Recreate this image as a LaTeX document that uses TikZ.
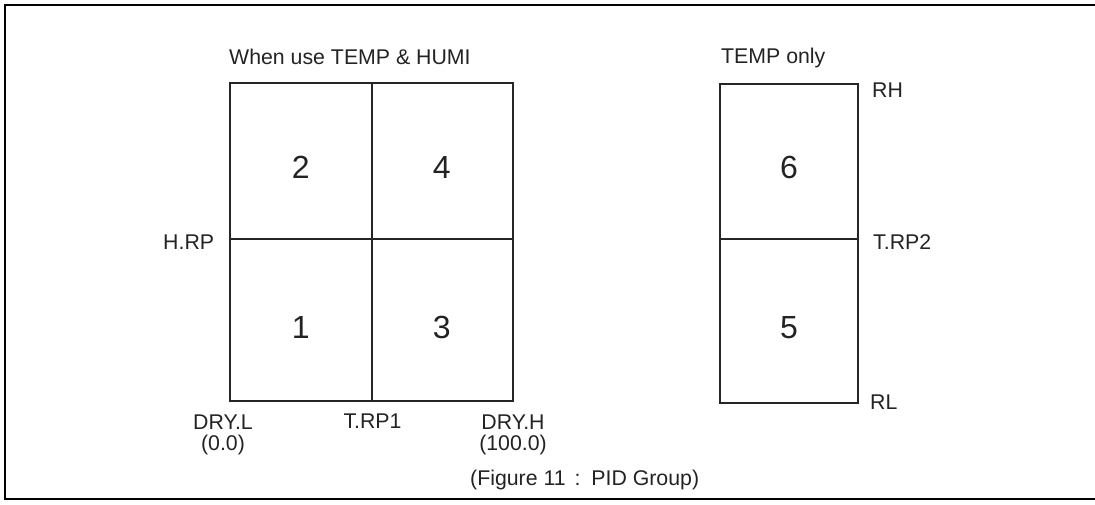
\documentclass[tikz,border=0pt]{standalone}
\usepackage{fontspec}
\setmainfont{Liberation Sans}
\begin{document}
\begin{tikzpicture}[x=1pt,y=1pt,
  lbl/.style={font=\fontsize{21.3}{21}\selectfont, text=txtc, inner sep=0pt},
  dig/.style={font=\fontsize{32}{34}\selectfont, text=txtc, inner sep=0pt},
  boxline/.style={line width=1.6pt, draw=black!85},
  frameline/.style={line width=2.6pt, draw=black}]
\definecolor{txtc}{RGB}{35,35,35}
\useasboundingbox (0,0) rectangle (1095,-504);
% outer frame (open on the right)
\coordinate (F1) at (1095,-5);
\coordinate (F2) at (5,-5);
\coordinate (F3) at (5,-499);
\coordinate (F4) at (1095,-499);
\draw[frameline] (F1) -- (F2) -- (F3) -- (F4);
% left grid
\coordinate (LTL) at (230,-83);
\coordinate (LBR) at (513,-401);
\coordinate (LTM) at (372,-83);
\coordinate (LBM) at (372,-401);
\coordinate (LML) at (230,-239);
\coordinate (LMR) at (513,-239);
\draw[boxline] (LTL) rectangle (LBR);
\draw[boxline] (LTM) -- (LBM);
\draw[boxline] (LML) -- (LMR);
% right box
\coordinate (RTL) at (720,-84);
\coordinate (RBR) at (858,-403);
\coordinate (RML) at (720,-239);
\coordinate (RMR) at (858,-239);
\draw[boxline] (RTL) rectangle (RBR);
\draw[boxline] (RML) -- (RMR);
% titles
\node[lbl, anchor=base west] (t1) at (229,-64) {When use TEMP \& HUMI};
\node[lbl, anchor=base west] (t2) at (721,-63) {TEMP only};
% labels
\node[lbl, anchor=base west] (rh) at (872,-97) {RH};
\node[lbl, anchor=base west] (trp2) at (873,-249) {T.RP2};
\node[lbl, anchor=base west] (rl) at (870,-409) {RL};
\node[lbl, anchor=base west] (hrp) at (163,-249) {H.RP};
\node[lbl, anchor=base, align=center] (dryl) at (223,-450) {DRY.L\\(0.0)};
\node[lbl, anchor=base] (trp1) at (372.5,-428) {T.RP1};
\node[lbl, anchor=base, align=center] (dryh) at (513,-450) {DRY.H\\(100.0)};
\node[lbl, anchor=base west] (cap) at (470,-485) {(Figure 11\hspace{3pt} :\hspace{3pt} PID Group)};
% digits
\node[dig] (d2) at (300.7,-167.7) {2};
\node[dig] (d4) at (441.7,-167.7) {4};
\node[dig] (d1) at (300.7,-327) {1};
\node[dig] (d3) at (441.7,-327) {3};
\node[dig] (d6) at (789,-167.7) {6};
\node[dig] (d5) at (789,-328) {5};
\end{tikzpicture}
\end{document}
